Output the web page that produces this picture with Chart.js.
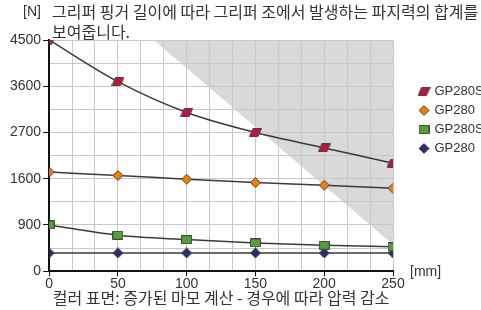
<!DOCTYPE html>
<html>
<head>
<meta charset="utf-8">
<script src="https://cdn.jsdelivr.net/npm/chart.js@4/dist/chart.umd.min.js"></script>
<style>
  html, body { margin: 0; padding: 0; background: #fff; overflow: hidden; }
  canvas { display: block; }
</style>
</head>
<body>
<canvas id="chart" width="481" height="310"></canvas>
<script>
// Données
const lengths = [0, 50, 100, 150, 200, 250];
const redValues = [4500, 3690, 3090, 2700, 2400, 2100];
const orangeValues = [1930, 1865, 1790, 1725, 1675, 1615];
const greenValues = [900, 700, 615, 550, 505, 475];
const navyValues = [355, 355, 355, 355, 355, 355];
const seriesNames = ['GP280S', 'GP280', 'GP280S', 'GP280'];

// Zone grisée (limite)
const shadeX = [76, 250];
const shadeY = [4500, 520];

const xTickLabels = ['0', '50', '100', '150', '200', '250'];
const yTickLabels = ['0', '900', '1600', '2700', '3600', '4500'];
const xGridValues = Array.from({ length: 16 }, (_, i) => i * 250 / 15);
const yGridValues = Array.from({ length: 11 }, (_, i) => i * 450);

const unitY = '[N]';
const unitX = '[mm]';
const titleLines = ['그리퍼 핑거 길이에 따라 그리퍼 조에서 발생하는 파지력의 합계를', '보여줍니다.'];
const caption = '컬러 표면: 증가된 마모 계산 - 경우에 따라 압력 감소';

const latinFont = '"Liberation Sans", Arial, sans-serif';
const koreanFont = '"Noto Sans CJK KR", sans-serif';
const textColor = '#333';
const lineColor = '#3a3a3a';

/**
 * Créer un marqueur dessiné sur un petit canvas
 */
function makeMarker(shape, fill) {
    const c = document.createElement('canvas');
    const ctx = c.getContext('2d');
    if (shape === 'parallelogram') {
        c.width = 13; c.height = 9;
        ctx.beginPath();
        ctx.moveTo(4, 0.5); ctx.lineTo(12.5, 0.5); ctx.lineTo(9, 8.5); ctx.lineTo(0.5, 8.5);
    } else if (shape === 'diamond') {
        c.width = 11; c.height = 11;
        ctx.beginPath();
        ctx.moveTo(5.5, 0.5); ctx.lineTo(10.5, 5.5); ctx.lineTo(5.5, 10.5); ctx.lineTo(0.5, 5.5);
    } else {
        c.width = 11; c.height = 9;
        ctx.beginPath();
        ctx.rect(0.5, 0.5, 10, 8);
    }
    ctx.closePath();
    ctx.fillStyle = fill;
    ctx.fill();
    ctx.strokeStyle = '#444';
    ctx.lineWidth = 1;
    ctx.stroke();
    return c;
}

function toPoints(values) {
    return values.map((v, i) => ({ x: lengths[i], y: v }));
}

function seriesDataset(label, values, marker) {
    return {
        label: label,
        data: toPoints(values),
        borderColor: lineColor,
        borderWidth: 1.5,
        cubicInterpolationMode: 'monotone',
        pointStyle: marker,
        pointRadius: 5,
        fill: false
    };
}

// Textes autour du graphique
const headerPlugin = {
    id: 'headerText',
    afterDraw(chart) {
        const ctx = chart.ctx;
        const area = chart.chartArea;
        ctx.save();
        ctx.fillStyle = textColor;
        ctx.textBaseline = 'middle';
        ctx.font = '14px ' + latinFont;
        ctx.fillText(unitY, 23, 12);
        ctx.fillText(unitX, area.right + 17, area.bottom + 1);
        ctx.font = '16px ' + koreanFont;
        ctx.fillText(titleLines[0], 52, 12);
        ctx.fillText(titleLines[1], 52, 32);
        ctx.textAlign = 'center';
        ctx.fillText(caption, (area.left + area.right) / 2, 298);
        ctx.restore();
    }
};

const markers = [
    makeMarker('parallelogram', '#bb173c'),
    makeMarker('diamond', '#f28000'),
    makeMarker('square', '#4fa233'),
    makeMarker('diamond', '#2f2b6e')
];

const config = {
    type: 'line',
    data: {
        datasets: [
            seriesDataset(seriesNames[0], redValues, markers[0]),
            seriesDataset(seriesNames[1], orangeValues, markers[1]),
            seriesDataset(seriesNames[2], greenValues, markers[2]),
            seriesDataset(seriesNames[3], navyValues, markers[3]),
            {
                label: 'zone',
                data: shadeX.map((x, i) => ({ x: x, y: shadeY[i] })),
                backgroundColor: '#d9d9d9',
                borderWidth: 0,
                pointRadius: 0,
                fill: 'end'
            }
        ]
    },
    options: {
        responsive: false,
        animation: false,
        layout: { padding: { top: 40, left: 8, right: 0, bottom: 17 } },
        plugins: {
            filler: { drawTime: 'beforeDraw' },
            tooltip: { enabled: false },
            legend: {
                position: 'right',
                align: 'start',
                maxWidth: 67,
                title: { display: true, text: '', font: { size: 10, lineHeight: 1 }, padding: { top: 29, bottom: 0 } },
                labels: {
                    usePointStyle: true,
                    pointStyleWidth: 8,
                    padding: 6,
                    color: textColor,
                    font: { size: 13, family: latinFont },
                    filter: item => item.datasetIndex < 4
                }
            }
        },
        scales: {
            x: {
                type: 'linear',
                min: 0,
                max: 250,
                afterBuildTicks: s => { s.ticks = xGridValues.map(v => ({ value: v })); },
                ticks: {
                    autoSkip: false,
                    maxRotation: 0,
                    padding: 0,
                    color: textColor,
                    font: { size: 14, family: latinFont },
                    callback: (v, i) => (i % 3 === 0 ? xTickLabels[i / 3] : '')
                },
                grid: {
                    color: '#c8c8c8',
                    lineWidth: 1,
                    tickLength: 5,
                    tickColor: ctx => (ctx.index % 3 === 0 ? '#111' : 'rgba(0,0,0,0)')
                },
                border: { color: '#111', width: 2 }
            },
            y: {
                type: 'linear',
                min: 0,
                max: 4500,
                afterBuildTicks: s => { s.ticks = yGridValues.map(v => ({ value: v })); },
                ticks: {
                    autoSkip: false,
                    padding: 2,
                    color: textColor,
                    font: { size: 14, family: latinFont },
                    callback: (v, i) => (i % 2 === 0 ? yTickLabels[i / 2] : '')
                },
                grid: {
                    color: '#c8c8c8',
                    lineWidth: 1,
                    tickLength: 6,
                    tickColor: ctx => (ctx.index % 2 === 0 ? '#111' : 'rgba(0,0,0,0)')
                },
                border: { color: '#111', width: 2 }
            },
            gap: {
                type: 'linear',
                position: 'right',
                display: true,
                grid: { display: false },
                ticks: { display: false },
                border: { display: false },
                afterFit: s => { s.width = 21; }
            }
        }
    },
    plugins: [headerPlugin]
};

new Chart(document.getElementById('chart').getContext('2d'), config);
</script>
</body>
</html>
